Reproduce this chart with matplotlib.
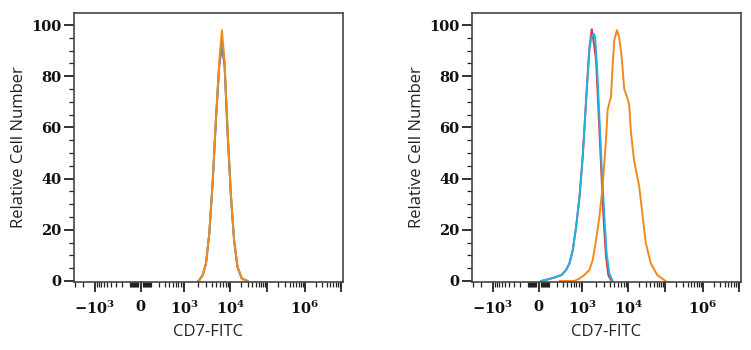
import numpy as np
import matplotlib
matplotlib.use("Agg")
import matplotlib.pyplot as plt
from matplotlib.ticker import FixedLocator, FixedFormatter, MultipleLocator

# ---- data (x in fluorescence units, y in % of max) ----
left_x = [2020, 2130, 2510, 2970, 3500, 4130, 4900, 5780, 6600, 7540, 8750,
          10460, 12800, 15800, 20700, 29400]
left_red = [0, 0.4, 2.3, 6.9, 18.6, 38, 63, 84, 91.5, 84, 58, 33, 15.5, 5.4, 1.0, 0]
left_blue = [0, 0.4, 2.3, 6.9, 18.6, 38, 63.5, 85, 93.5, 85, 59, 33.5, 16, 5.5, 1.0, 0]
left_orange = [0, 0.4, 2.3, 6.9, 18.6, 38, 64, 86, 98, 86, 60, 34, 16, 5.6, 1.0, 0]

right_blue_x = [25, 90, 169, 274, 376, 461, 563, 688, 840, 1013, 1144, 1267,
                1420, 1547, 1760, 1890, 2090, 2350, 2640, 3020, 3390, 3870, 4570]
right_blue = [0, 0.65, 1.4, 2.3, 4.3, 6.9, 12.1, 21.2, 32.9, 48.6, 64.2, 77.2,
              90.2, 94.8, 96.7, 95.4, 83.7, 64.2, 44.7, 25.1, 10.7, 3.0, 0]

right_red_x = [25, 90, 169, 274, 376, 461, 563, 688, 840, 1013, 1144, 1267,
               1420, 1595, 1680, 1990, 2240, 2560, 2910, 3280, 3680, 4340]
right_red = [0, 0.65, 1.4, 2.3, 4.3, 6.9, 12.1, 21.2, 32.9, 48.6, 64.2, 77.2,
             91, 98.3, 96, 86.3, 66.8, 44.7, 23.8, 9.5, 2.3, 0]

right_orange_x = [246, 624, 840, 1100, 1420, 1680, 1990, 2350, 2770, 3280, 3560,
                  4220, 4570, 4970, 5690, 6390, 7170, 8200, 9390, 10600, 11900,
                  14500, 19900, 24400, 30000, 41000, 61800, 104000]
right_orange = [0, 0, 1.0, 2.3, 4.3, 8.2, 16, 25, 37, 55, 67, 72, 84, 94, 98,
                95, 88, 75, 72, 69, 58, 47, 37, 26, 15, 7, 2.3, 0]

xticks_major = [-1e3, 0, 1e3, 1e4, 1e5, 1e6, 1e7]
xtick_labels = [r"$\mathregular{-10^3}$", "0", r"$\mathregular{10^3}$",
                r"$\mathregular{10^4}$", "", r"$\mathregular{10^6}$", ""]

RED = "#e8323c"
BLUE = "#1cb2e6"
ORANGE = "#f08a1c"

# ---- biexponential-like display scale (asinh, tuned piecewise to the picture) ----
W = 160.0
anch_x = np.array([-1e5, -1e4, -1e3, 0, 1e3, 1e4, 1e5, 1e6, 1e7, 1e8])
anch_d = np.array([-130.0, -88.0, -46.0, 0, 44.0, 90.0, 127.0, 165.0, 202.0, 239.0])
anch_u = np.arcsinh(anch_x / W)


def fwd(x):
    return np.interp(np.arcsinh(np.asarray(x, float) / W), anch_u, anch_d)


def inv(d):
    return W * np.sinh(np.interp(np.asarray(d, float), anch_d, anch_u))


minor = []
for m in range(2, 10):
    minor += [m * 10, -m * 10]
for m in range(1, 10):
    minor += [m * 100, -m * 100]
for k in range(3, 7):
    for m in range(2, 10):
        minor.append(m * 10 ** k)
minor += [-2000, -3000]

plt.rcParams["font.family"] = ["Open Sans", "DejaVu Sans"]

fig = plt.figure(figsize=(7.51, 3.5), dpi=100)
ax1 = fig.add_axes([74 / 751, 1 - 282 / 350, 269 / 751, 269 / 350])
ax2 = fig.add_axes([472 / 751, 1 - 282 / 350, 269 / 751, 269 / 350])

panels = [
    (ax1, [(left_x, left_red, RED), (left_x, left_blue, BLUE), (left_x, left_orange, ORANGE)]),
    (ax2, [(right_red_x, right_red, RED), (right_blue_x, right_blue, BLUE),
           (right_orange_x, right_orange, ORANGE)]),
]

for ax, curves in panels:
    ax.set_xscale("function", functions=(fwd, inv))
    for xs, ys, c in curves:
        ax.plot(xs, ys, color=c, lw=1.4)
    ax.set_xlim(-3200, 1.1e7)
    ax.set_ylim(-0.4, 104.7)

    ax.xaxis.set_major_locator(FixedLocator(xticks_major))
    ax.xaxis.set_major_formatter(FixedFormatter(xtick_labels))
    ax.xaxis.set_minor_locator(FixedLocator(minor))
    ax.yaxis.set_major_locator(MultipleLocator(20))
    ax.yaxis.set_minor_locator(MultipleLocator(5))

    ax.tick_params(axis="both", which="major", direction="out", length=7, width=1.3,
                   color="#222222")
    ax.tick_params(axis="both", which="minor", direction="out", length=3.5, width=0.9,
                   color="#222222")
    ax.tick_params(axis="x", which="major", pad=6)
    ax.tick_params(axis="y", which="major", pad=2)
    for lab in ax.get_xticklabels() + ax.get_yticklabels():
        lab.set_fontfamily("DejaVu Serif")
        lab.set_fontsize(10.5)
        lab.set_fontweight("semibold")
        lab.set_color("#111111")

    for s in ax.spines.values():
        s.set_color("#444444")
        s.set_linewidth(1.2)

    ax.set_xlabel("CD7-FITC", fontsize=12, color="#222222", labelpad=5)
    ax.set_ylabel("Relative Cell Number", fontsize=12, color="#222222", labelpad=3)

fig.savefig("out.png", dpi=100)
